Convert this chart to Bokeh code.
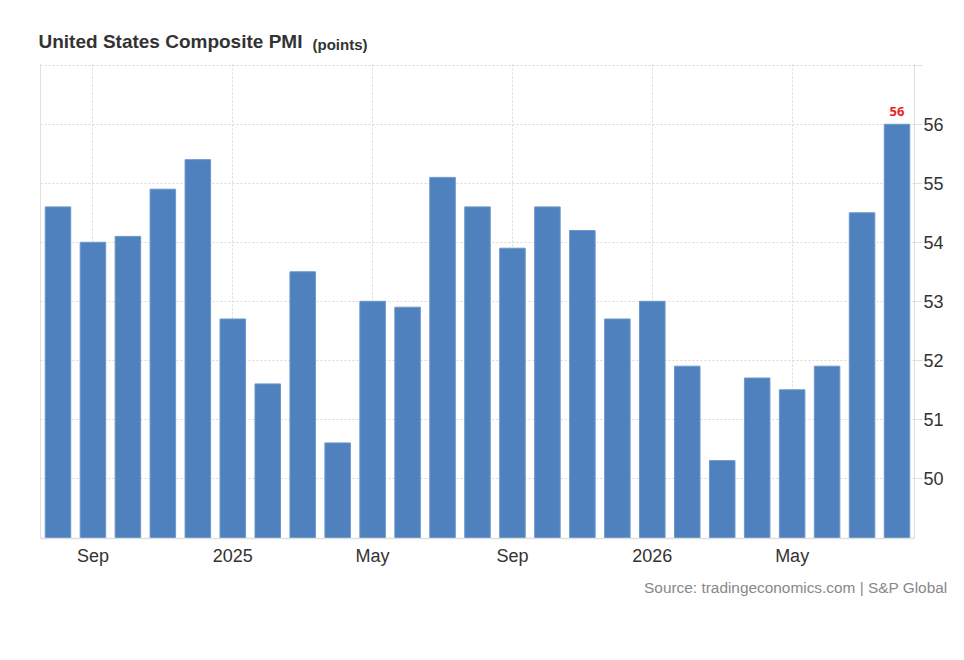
from bokeh.plotting import figure
from bokeh.models import Range1d, FixedTicker, LinearAxis, Title
from bokeh.core.properties import value
from bokeh.embed import file_html
from bokeh.resources import INLINE

# ---- data ----
months = ["Aug 2024", "Sep 2024", "Oct 2024", "Nov 2024", "Dec 2024",
          "Jan 2025", "Feb 2025", "Mar 2025", "Apr 2025", "May 2025",
          "Jun 2025", "Jul 2025", "Aug 2025", "Sep 2025", "Oct 2025",
          "Nov 2025", "Dec 2025", "Jan 2026", "Feb 2026", "Mar 2026",
          "Apr 2026", "May 2026", "Jun 2026", "Jul 2026", "Aug 2026"]
pmi = [54.6, 54.0, 54.1, 54.9, 55.4,
       52.7, 51.6, 53.5, 50.6, 53.0,
       52.9, 55.1, 54.6, 53.9, 54.6,
       54.2, 52.7, 53.0, 51.9, 50.3,
       51.7, 51.5, 51.9, 54.5, 56.0]
tick_months = ["Sep 2024", "Jan 2025", "May 2025", "Sep 2025", "Jan 2026", "May 2026"]
tick_labels = ["Sep", "2025", "May", "Sep", "2026", "May"]
y_ticks = [50, 51, 52, 53, 54, 55, 56, 57]
y_tick_labels = ["50", "51", "52", "53", "54", "55", "56", ""]

title_text = "United States Composite PMI"
unit_text = "(points)"
source_text = "Source: tradingeconomics.com | S&P Global"

# ---- figure ----
x = list(range(len(months)))
y0, y1 = 48.98, 57.03
W, H = 956, 648

p = figure(width=W, height=H, output_backend="svg", toolbar_location=None,
           x_range=Range1d(-0.5, len(months) - 0.5), y_range=Range1d(y0, y1),
           y_axis_location="right", title=None,
           min_border_left=40, min_border_right=42, min_border_top=63, min_border_bottom=110)
p.outline_line_color = None
p.background_fill_color = "white"
p.border_fill_color = "white"

t_main = Title(text=title_text, align="left", offset=-2, standoff=24,
               text_font="Liberation Sans", text_font_style="bold",
               text_font_size="19px", text_color="#333333")
p.add_layout(t_main, "above")
t_unit = Title(text=unit_text, align="left", offset=272, standoff=-73,
               text_font="Liberation Sans", text_font_style="bold",
               text_font_size="15px", text_color="#333333")
p.add_layout(t_unit, "above")

p.vbar(x=x, top=pmi, bottom=y0, width=0.73, fill_color="#4e81be",
       line_color="#6b97cc", line_width=1)

# x axis
xt = [months.index(m) for m in tick_months]
p.xaxis.ticker = FixedTicker(ticks=xt)
p.xaxis.major_label_overrides = {t: l for t, l in zip(xt, tick_labels)}
p.xaxis.major_tick_line_color = None
p.xaxis.minor_tick_line_color = None
p.xaxis.axis_line_color = "#e0e0e0"
p.xaxis.axis_line_width = 1.5
p.xaxis.major_label_text_font = "Liberation Sans"
p.xaxis.major_label_text_font_size = "18px"
p.xaxis.major_label_text_color = "#333333"
p.xaxis.major_label_standoff = 1

# y axis (right)
p.yaxis.ticker = FixedTicker(ticks=y_ticks)
p.yaxis.major_label_overrides = {t: l for t, l in zip(y_ticks, y_tick_labels)}
p.yaxis.axis_line_color = "#e0e0e0"
p.yaxis.major_tick_line_color = "#e0e0e0"
p.yaxis.major_tick_in = 0
p.yaxis.major_tick_out = 8
p.yaxis.minor_tick_line_color = None
p.yaxis.major_label_text_font = "Liberation Sans"
p.yaxis.major_label_text_font_size = "18px"
p.yaxis.major_label_text_color = "#333333"
p.yaxis.major_label_standoff = 1

# left border line
la = LinearAxis(ticker=FixedTicker(ticks=[]), axis_line_color="#e0e0e0",
                major_tick_line_color=None, minor_tick_line_color=None,
                major_label_text_font_size="0px")
p.add_layout(la, "left")

# grids
p.xgrid.ticker = FixedTicker(ticks=xt)
p.ygrid.ticker = FixedTicker(ticks=y_ticks)
for g in (p.xgrid, p.ygrid):
    g.grid_line_color = "#d8d8d8"
    g.grid_line_dash = "2 2"
    g.grid_line_width = 1

# last value label
p.text(x=[x[-1]], y=[pmi[-1]], text=[f"{pmi[-1]:g}"], text_align="center",
       text_baseline="alphabetic", y_offset=-13, text_color="#ee1c25",
       text_font=value("Open Sans"), text_font_style="bold", text_font_size="13px")

# source below
src = Title(text=source_text, align="right", offset=-33, standoff=17,
            text_font="Liberation Sans", text_font_style="normal",
            text_font_size="15.4px", text_color="#888888")
p.add_layout(src, "below")

open("out.html", "w").write(file_html(p, INLINE))
